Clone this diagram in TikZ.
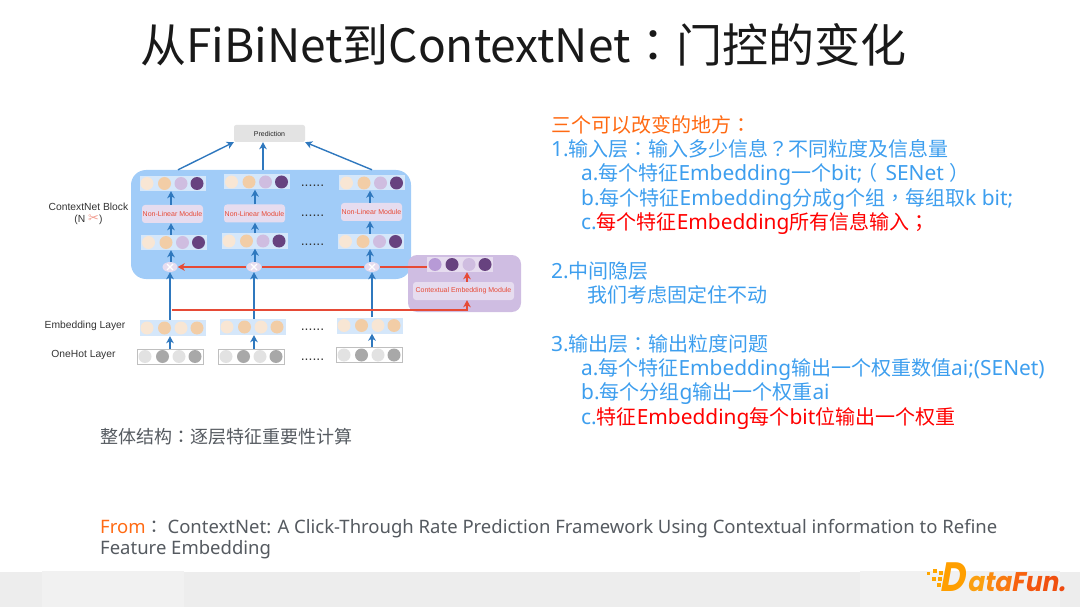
\documentclass[tikz,border=0pt]{standalone}
\usepackage{fontspec}
\usepackage{xcolor}
\setmainfont{Noto Sans CJK SC}
\newfontfamily\labelfont{Liberation Sans}
\newfontfamily\latinfont{Noto Sans}
\newfontfamily\slidelatin[Scale=1.045]{Noto Sans}
\newfontfamily\punctfont{Noto Sans CJK TC}
\newfontfamily\logofont[FakeSlant=0.18,FakeStretch=0.92]{Poppins}
\newfontfamily\logobigfont[FakeSlant=0.18,FakeStretch=0.85]{Poppins}
\newcommand{\en}[1]{{\slidelatin #1}}
\newcommand{\pn}[1]{{\punctfont #1}}
\usetikzlibrary{arrows.meta,positioning,shapes.geometric}
\definecolor{slideblue}{HTML}{3D9EEE}
\definecolor{slideorange}{HTML}{FF6A13}
\definecolor{slidegrey}{HTML}{555A60}
\definecolor{blockblue}{HTML}{A1CCF8}
\definecolor{rowblue}{HTML}{D5E7FA}
\definecolor{blockpurple}{HTML}{CFBDE2}
\definecolor{modulepink}{HTML}{E6DCEF}
\definecolor{arrowblue}{HTML}{2F78BE}
\definecolor{arrowred}{HTML}{E64A36}
\definecolor{dotcream}{HTML}{F8E6D4}
\definecolor{dotpeach}{HTML}{F2CDA6}
\definecolor{dotlilac}{HTML}{CFBDE0}
\definecolor{dotviolet}{HTML}{67427F}
\definecolor{dotmauve}{HTML}{B79AD6}
\definecolor{dotpale}{HTML}{E2E2E2}
\definecolor{dotgrey}{HTML}{A8A8A8}
\begin{document}
\begin{tikzpicture}[x=1pt,y=-1pt]
    \tikzset{
      rowbox/.style={rectangle,inner sep=0pt,minimum width=66pt,minimum height=15pt,fill=#1},
      rowdot/.style={circle,inner sep=0pt,minimum size=13pt,fill=#1},
      module/.style={rectangle,rounded corners=3pt,inner sep=0pt,minimum height=18pt,fill=modulepink,text=arrowred,font=\labelfont\fontsize{7}{8}\selectfont},
      crossing/.style={ellipse,inner sep=0pt,minimum width=15pt,minimum height=10pt,fill=modulepink},
      sidelabel/.style={font=\labelfont\fontsize{10.3}{12.5}\selectfont,text=black!80,align=center},
      gap/.style={anchor=base,font=\labelfont\fontsize{14}{14}\selectfont,text=black!80,inner sep=0pt},
      blueline/.style={draw=arrowblue,line width=1.4pt,-{Stealth[length=7pt,width=7.5pt,inset=2pt]}},
      redline/.style={draw=arrowred,line width=1.4pt},
      redarrow/.style={redline,-{Stealth[length=7pt,width=7.5pt,inset=2pt]}},
      slideline/.style={anchor=base west,inner sep=0pt,text=slideblue,font=\fontsize{20}{24}\selectfont},
    }
    \useasboundingbox (0,0) rectangle (1080,607);

    % footer band
    \fill[fill=black!7] (0,572) rectangle (1080,607);
    \fill[fill=black!5.5] (42,571) rectangle (184,607);
    \fill[fill=black!5.5] (860,571) rectangle (1060,607);

    \node[anchor=base west,inner sep=0pt,text=black!90,font=\fontsize{46}{50}\selectfont] (title) at (140,63) {从FiBiNet到ContextNet\pn{：}门控的变化};

    % the two big blocks
    \node[rectangle,rounded corners=15pt,inner sep=0pt,minimum width=280pt,minimum height=109pt,fill=blockblue] (block) at (271,224.5) {};
    \node[rectangle,rounded corners=9pt,inner sep=0pt,minimum width=113pt,minimum height=57pt,fill=blockpurple] (ctxblock) at (464.5,283.5) {};
    \node[rectangle,rounded corners=2pt,inner sep=0pt,minimum width=71pt,minimum height=17pt,fill=black!11,font=\labelfont\fontsize{7}{8}\selectfont,text=black!85] (pred) at (269.5,133.5) {Prediction};

    % dot rows
    \foreach \rowname/\cx/\cy in {top1/172.5/183.5,top2/257/182,top3/372/183,mid1/174/242.5,mid2/254.5/241,mid3/371/241.5} {
      \node[rowbox=rowblue] (\rowname) at (\cx,\cy) {};
      \foreach \dx/\dotcolor [count=\i] in {-25.5/dotcream,-8/dotpeach,8.5/dotlilac,24.5/dotviolet}
        \node[rowdot=\dotcolor] (\rowname-\i) at ([xshift=\dx pt]\rowname.center) {};
    }
    \foreach \rowname/\cx/\cy in {emb1/172.5/328,emb2/252.5/327,emb3/369.5/325.5} {
      \node[rowbox=rowblue,minimum height=16pt] (\rowname) at (\cx,\cy) {};
      \foreach \dx/\dotcolor [count=\i] in {-25.5/dotcream,-8/dotpeach,8.5/dotcream,24.5/dotpeach}
        \node[rowdot=\dotcolor] (\rowname-\i) at ([xshift=\dx pt]\rowname.center) {};
    }
    \foreach \rowname/\cx/\cy in {hot1/170.5/356.5,hot2/251.5/356.5,hot3/369.5/355} {
      \node[rowbox=white,minimum height=15pt,draw=black!25,line width=0.7pt] (\rowname) at (\cx,\cy) {};
      \foreach \dx/\dotcolor [count=\i] in {-25.5/dotpale,-8/dotgrey,8.5/dotpale,24.5/dotgrey}
        \node[rowdot=\dotcolor] (\rowname-\i) at ([xshift=\dx pt]\rowname.center) {};
    }
    \node[rowbox=modulepink] (ctxrow) at (460,264.5) {};
    \foreach \dx/\dotcolor [count=\i] in {-25/dotmauve,-8/dotviolet,9/dotlilac,25/dotviolet}
      \node[rowdot=\dotcolor] (ctxrow-\i) at ([xshift=\dx pt]ctxrow.center) {};

    % modules
    \node[module,minimum width=61pt] (mod1) at (172.5,214) {Non-Linear Module};
    \node[module,minimum width=61pt] (mod2) at (254.5,213.5) {Non-Linear Module};
    \node[module,minimum width=61pt] (mod3) at (371.5,212) {Non-Linear Module};
    \node[module,minimum width=101pt] (ctxmod) at (463.5,291) {Contextual Embedding Module};

    \node[crossing] (cross1) at (170,267) {};
    \node[crossing] (cross2) at (254,267) {};
    \node[crossing] (cross3) at (372,267) {};
    \foreach \col in {1,2,3} {
      \draw[white,line width=1.4pt] ([xshift=-3pt,yshift=3pt]cross\col.center) -- ([xshift=3pt,yshift=-3pt]cross\col.center);
      \draw[white,line width=1.4pt] ([xshift=-3pt,yshift=-3pt]cross\col.center) -- ([xshift=3pt,yshift=3pt]cross\col.center);
    }

    % connectors
    \foreach \col/\ux in {1/1,2/1,3/-2} {
      \draw[blueline] (cross\col.south |- emb\col.north) -- (cross\col.south);
      \draw[blueline] (cross\col.south |- hot\col.north) -- (cross\col.south |- emb\col.south);
      \draw[blueline] ([xshift=\ux pt]cross\col.north) -- ([xshift=\ux pt]cross\col.north |- mid\col.south);
      \draw[blueline] ([xshift=\ux pt]cross\col.north |- mid\col.north) -- ([xshift=\ux pt]cross\col.north |- mod\col.south);
      \draw[blueline] ([xshift=\ux pt]cross\col.north |- mod\col.north) -- ([xshift=\ux pt]cross\col.north |- top\col.south);
    }
    \draw[blueline] ([xshift=-93pt]block.north) -- (pred.south west);
    \draw[blueline] ([xshift=-8pt]block.north) -- ([xshift=-6.5pt]pred.south);
    \draw[blueline] ([xshift=101pt]block.north) -- (pred.south east);
    \draw[redline] (ctxrow.west |- cross3.east) -- (cross3.east);
    \draw[redline] (cross3.west) -- (cross2.east);
    \draw[redarrow] (cross2.west) -- (cross1.east);
    \coordinate (tap) at (172,310);
    \draw[redarrow] (tap) -| ([xshift=3.5pt]ctxmod.south);
    \draw[redarrow] ([xshift=3.5pt]ctxmod.north) -- ([xshift=3.5pt]ctxmod.north |- ctxrow.south);

    % labels beside the diagram
    \node[sidelabel] (blocklabel) at (88.5,214) {ContextNet Block\\(N {\fontspec{DejaVu Sans}\fontsize{13}{12.5}\selectfont\color{arrowred!55}✂})};
    \node[sidelabel] (emblabel) at (85,326) {Embedding Layer};
    \node[sidelabel] (hotlabel) at (83.5,355) {OneHot Layer};
    \foreach \cy [count=\i] in {187,217,245,330,360}
      \node[gap] (gap\i) at (312.5,\cy) {......};

    % text on the right
    \node[slideline,text=slideorange] (line1) at (551,132.5) {三个可以改变的地方\pn{：}};
    \node[slideline] (line2) at (551,156.5) {\en{1.}输入层\pn{：}输入多少信息\pn{？}不同粒度及信息量};
    \node[slideline] (line3) at (581,180.5) {\en{a.}每个特征\en{Embedding}一个\en{bit;}\hspace{-5pt}\pn{（}\hspace{8pt}\en{SENet}\hspace{6pt}\pn{）}};
    \node[slideline] (line4) at (581,205.5) {\en{b.}每个特征\en{Embedding}分成\en{g}个组\pn{，}每组取\en{k bit;}};
    \node[slideline] (line5) at (581,229.5) {\en{c.}{\color{red}每个特征\en{Embedding}所有信息输入\pn{；}}};
    \node[slideline] (line6) at (551,278.5) {\en{2.}中间隐层};
    \node[slideline] (line7) at (587,302.5) {我们考虑固定住不动};
    \node[slideline] (line8) at (551,351.5) {\en{3.}输出层\pn{：}输出粒度问题};
    \node[slideline] (line9) at (581,375.5) {\en{a.}每个特征\en{Embedding}输出一个权重数值\en{ai;(SENet)}};
    \node[slideline] (line10) at (581,399.5) {\en{b.}每个分组\en{g}输出一个权重\en{ai}};
    \node[slideline] (line11) at (581,424.5) {\en{c.}{\color{red}特征\en{Embedding}每个\en{bit}位输出一个权重}};

    \node[anchor=base west,inner sep=0pt,text=slidegrey,font=\fontsize{18}{22}\selectfont] (caption) at (100,443) {整体结构\pn{：}逐层特征重要性计算};
    \node[anchor=base west,inner sep=0pt,text=slidegrey,font=\fontsize{18}{21}\selectfont] (from1) at (100,533) {{\color{slideorange}\latinfont\fontsize{18.5}{21}\selectfont From}\pn{：}\hspace{4pt}\latinfont\fontsize{18.5}{21}\selectfont ContextNet: A Click-Through Rate Prediction Framework Using Contextual information to Refine};
    \node[anchor=base west,inner sep=0pt,text=slidegrey,font=\latinfont\fontsize{18.5}{21}\selectfont] (from2) at (100,554) {Feature Embedding};

    % logo
    \foreach \sx/\sy/\sz in {927/572/3,933/569/4,939/571/4,932/577/4,938/577/4,944/575/3,937/583/4,943/582/4,943/587/3}
      \fill[fill=orange!70!yellow] (\sx,\sy) rectangle (\sx+\sz,\sy+\sz);
    \node[anchor=base west,inner sep=0pt,font=\logobigfont\bfseries\fontsize{41}{42}\selectfont,text=orange!75!yellow] (logoD) at (939,591) {D};
    \node[anchor=base west,inner sep=0pt,font=\logofont\bfseries\fontsize{27}{28}\selectfont] (logotext) at (967,591) {{\color[HTML]{FBA010}a}{\color[HTML]{FB8C0F}t}{\color[HTML]{F97A10}a}{\color[HTML]{F7620F}F}{\color[HTML]{F4560F}u}{\color[HTML]{F0500F}n}{\color[HTML]{EE4A10}.}};
  \end{tikzpicture}
\end{document}
